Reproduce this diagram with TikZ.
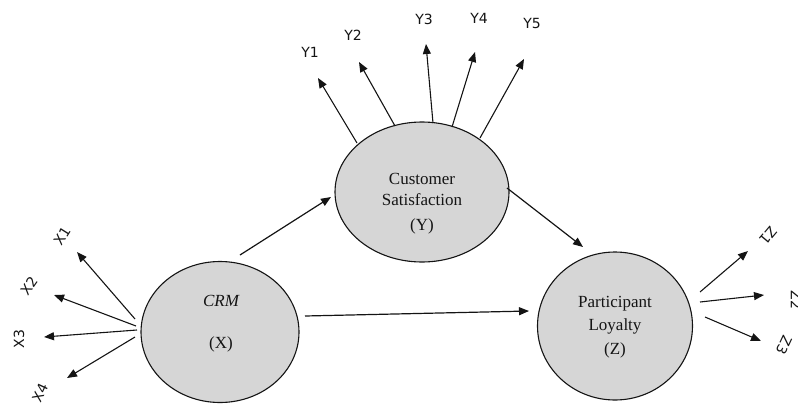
\documentclass[tikz,border=0pt]{standalone}
\usepackage{fontspec}
\setmainfont{Liberation Serif}
\newfontfamily\labelfont{DejaVu Sans}
\usetikzlibrary{shapes.geometric,arrows.meta}

\definecolor{constructfill}{RGB}{214,214,214}
\definecolor{inkcol}{RGB}{20,20,20}

\tikzset{
  construct/.style={ellipse, draw=inkcol, line width=1.1pt, fill=constructfill, inner sep=0pt},
  ctext/.style={font=\fontsize{17}{20}\selectfont, text=inkcol, inner sep=0pt},
  indlabel/.style={font=\labelfont\fontsize{14}{16}\selectfont, text=inkcol, inner sep=0pt},
  path/.style={draw=inkcol, line width=1.2pt, -{Triangle[length=10pt,width=8pt]}},
  indicator/.style={draw=inkcol, line width=1.1pt, -{Triangle[length=10pt,width=8pt]}}
}

\begin{document}
\begin{tikzpicture}[x=1pt, y=-1pt]
  \useasboundingbox (0,0) rectangle (798,410);

  % latent constructs
  \node[construct, minimum width=158pt, minimum height=141pt] (X) at (220,332) {};
  \node[construct, minimum width=174pt, minimum height=140pt] (Y) at (422,192) {};
  \node[construct, minimum width=155pt, minimum height=148pt] (Z) at (615,326) {};

  \node[ctext] (xname) at (221,301) {\itshape CRM};
  \node[ctext] (xsym)  at (221,344) {(X)};
  \node[ctext] (yname1) at (422,179) {Customer};
  \node[ctext] (yname2) at (422,200) {Satisfaction};
  \node[ctext] (ysym)   at (422,226) {(Y)};
  \node[ctext] (zname1) at (615,304) {Participant};
  \node[ctext] (zname2) at (615,326) {Loyalty};
  \node[ctext] (zsym)   at (615,350) {(Z)};

  % structural paths
  \coordinate (xy0) at (240,255); \coordinate (xy1) at (331,197);
  \coordinate (xz0) at (305,316); \coordinate (xz1) at (529,311);
  \coordinate (yz0) at (507,188); \coordinate (yz1) at (583,247);
  \draw[path] (xy0) -- (xy1);
  \draw[path] (xz0) -- (xz1);
  \draw[path] (yz0) -- (yz1);

  % indicators of X
  \coordinate (xs1) at (135,319); \coordinate (xe1) at (77,252);
  \coordinate (xs2) at (136,326); \coordinate (xe2) at (54,295);
  \coordinate (xs3) at (137,330); \coordinate (xe3) at (44,337);
  \coordinate (xs4) at (135,337); \coordinate (xe4) at (67,378);
  \draw[indicator] (xs1) -- (xe1);
  \draw[indicator] (xs2) -- (xe2);
  \draw[indicator] (xs3) -- (xe3);
  \draw[indicator] (xs4) -- (xe4);
  \node[indlabel, rotate=58] (lx1) at (62,236) {X1};
  \node[indlabel, rotate=55] (lx2) at (29,286) {X2};
  \node[indlabel, rotate=90] (lx3) at (19,339) {X3};
  \node[indlabel, rotate=65] (lx4) at (40,393) {X4};

  % indicators of Y
  \coordinate (ys1) at (357,143); \coordinate (ye1) at (318,78);
  \coordinate (ys2) at (395,126); \coordinate (ye2) at (359,62);
  \coordinate (ys3) at (433,123); \coordinate (ye3) at (426,44);
  \coordinate (ys4) at (452,127); \coordinate (ye4) at (475,52);
  \coordinate (ys5) at (480,138); \coordinate (ye5) at (524,59);
  \draw[indicator] (ys1) -- (ye1);
  \draw[indicator] (ys2) -- (ye2);
  \draw[indicator] (ys3) -- (ye3);
  \draw[indicator] (ys4) -- (ye4);
  \draw[indicator] (ys5) -- (ye5);
  \node[indlabel] (ly1) at (310,52) {Y1};
  \node[indlabel] (ly2) at (353,35) {Y2};
  \node[indlabel] (ly3) at (424,19) {Y3};
  \node[indlabel] (ly4) at (479,18) {Y4};
  \node[indlabel] (ly5) at (532,23) {Y5};

  % indicators of Z
  \coordinate (zs1) at (700,292); \coordinate (ze1) at (748,251);
  \coordinate (zs2) at (700,302); \coordinate (ze2) at (764,295);
  \coordinate (zs3) at (705,317); \coordinate (ze3) at (761,341);
  \draw[indicator] (zs1) -- (ze1);
  \draw[indicator] (zs2) -- (ze2);
  \draw[indicator] (zs3) -- (ze3);
  \node[indlabel, rotate=-130] (lz1) at (768,236) {Z1};
  \node[indlabel, rotate=-90]  (lz2) at (796,300) {Z2};
  \node[indlabel, rotate=-115] (lz3) at (784,345) {Z3};
\end{tikzpicture}
\end{document}
